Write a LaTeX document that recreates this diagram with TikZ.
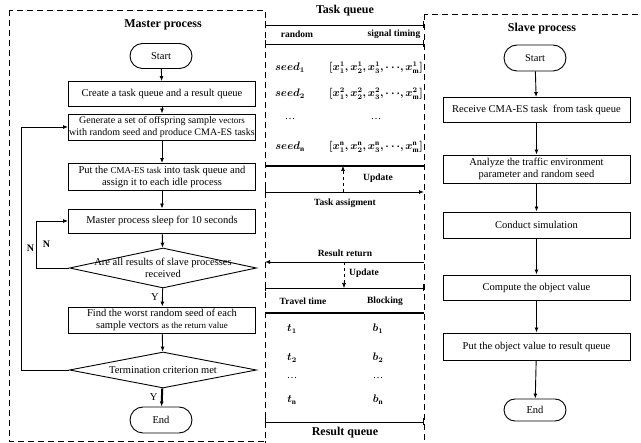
\documentclass[tikz,border=0pt]{standalone}
\usepackage{amsmath,bm}
\usepackage{fontspec}
\setmainfont{Liberation Serif}
\usetikzlibrary{shapes.geometric,shapes.misc,arrows.meta}
\newcommand{\smaller}[1]{{\fontsize{9}{11}\selectfont #1}}

\begin{document}
\begin{tikzpicture}[x=1pt, y=-1pt,
	font=\fontsize{10.5}{12.5}\selectfont,
	>={Latex[length=5pt,width=4pt]},
	proc/.style={draw, line width=0.9pt, minimum width=187pt, minimum height=#1, inner sep=1pt, align=center},
	proc/.default=25pt,
	term/.style={draw, rounded rectangle, line width=0.9pt, minimum width=64pt, minimum height=#1, inner sep=1pt},
	term/.default=25pt,
	test/.style={draw, diamond, line width=0.9pt, minimum width=187pt, minimum height=#1, inner sep=0pt},
	frame/.style={line width=0.9pt, dash pattern=on 6pt off 4pt},
	title/.style={font=\fontsize{12}{14}\selectfont\bfseries},
	head/.style={font=\fontsize{9.5}{11}\selectfont\bfseries},
	tab/.style={line width=0.9pt, {Bar[width=7pt]}-{Bar[width=7pt]}},
	flow/.style={->, line width=0.9pt}]
	\useasboundingbox (0,0) rectangle (641,443);
	\clip (0,0) rectangle (641,443);
	% frames
	\draw [frame] (9,10) rectangle (265,441); %master
	\draw [frame] (265,441) -- (265,450);
	\draw [frame] (424,14) rectangle (660,460); %slave
	% master process
	\node [title] (mtitle) at (163,25) {Master process};
	\node [term] (mstart) at (161,56) {Start};
	\node [proc] (create) at (162,94) {Create a task queue and a result queue};
	\node [proc=26pt, inner xsep=0pt, font=\fontsize{10}{12.5}\selectfont] (gen) at (162,127) {Generate a set of offspring sample \smaller{vectors}\\with random seed and produce CMA-ES tasks};
	\node [proc=27pt] (put) at (162,177) {Put the \smaller{CMA-ES task} into task queue and\\assign it to each idle process};
	\node [proc=24pt] (sleep) at (162,221) {Master process sleep for 10 seconds};
	\node [test=40pt, label={[align=center, font=\fontsize{10.5}{12}\selectfont]center:Are all results of slave processes\\received}] (dia1) at (163,268) {};
	\node [proc=26pt] (find) at (162,320) {Find the worst random seed of each\\sample vectors \smaller{as the return value}};
	\node [test=36pt, label=center:Termination criterion met] (dia2) at (163,370) {};
	\node [term=26pt] (mend) at (161,420) {End};
	\draw [flow] (mstart) -- (create);
	\draw [flow] (create) -- (gen);
	\draw [flow] (gen) -- (put);
	\draw [flow] (put) -- (sleep);
	\draw [flow] (sleep) -- (dia1);
	\draw [flow] (dia1) -- node [left] {Y} (find);
	\draw [flow] (find) -- (dia2);
	\draw [->, line width=2pt] (dia2) -- node [left] {Y} (mend);
	\draw [flow] (dia1.west) -- ++(-33,0) |- node [pos=0.25, right=3pt, font=\bfseries] {N} (sleep.west);
	\draw [flow] (dia2.west) -- ++(-48,0) |- node [pos=0.25, right=2pt, font=\bfseries] {N} (gen.west);
	% task queue
	\node [title] (tqtitle) at (345,11) {Task queue};
	\draw [tab] (265,25) -- (424,25);
	\node [head] (hrand) at (297,34) {random};
	\node [head] (hsig) at (394,34) {signal timing};
	\draw [tab] (265,44) -- (424,44);
	\node (seed1) at (290,68) {$\bm{seed_1}$};
	\node (vec1) at (376,68) {$\bm{[x_1^1,x_2^1,x_3^1,\cdots,x_{\mathrm{m}}^1]}$};
	\node (seed2) at (290,94) {$\bm{seed_2}$};
	\node (vec2) at (376,94) {$\bm{[x_1^2,x_2^2,x_3^2,\cdots,x_{\mathrm{m}}^2]}$};
	\node (sdots) at (290,119) {\dots};
	\node (vdots) at (376,119) {\dots};
	\node (seedn) at (290,147) {$\bm{seed_{\mathrm{n}}}$};
	\node (vecn) at (376,147) {$\bm{[x_1^{\mathrm{n}},x_2^{\mathrm{n}},x_3^{\mathrm{n}},\cdots,x_{\mathrm{m}}^{\mathrm{n}}]}$};
	\draw [line width=1.2pt] (265,166) -- (424,166);
	\coordinate (upa) at (343,192);
	\coordinate (upb) at (343,166);
	\draw [->, dashed, line width=0.6pt] (upa) -- (upb);
	\node [head] (upd1) at (378,178) {Update};
	\coordinate (tasks) at (265,192);
	\coordinate (taske) at (424,192);
	\draw [line width=0.9pt, {Bar[width=7pt]}->] (tasks) -- (taske);
	\node [head] (tassign) at (345,203) {Task assigment};
	% result queue
	\node [head] (rreturn) at (345,253) {Result return};
	\coordinate (rets) at (424,262);
	\coordinate (rete) at (265,262);
	\draw [flow] (rets) -- (rete);
	\coordinate (dna) at (344,262);
	\coordinate (dnb) at (344,288);
	\draw [->, dashed, line width=0.6pt] (dna) -- (dnb);
	\node [head] (upd2) at (364,273) {Update};
	\draw [tab] (265,288) -- (424,288);
	\node [head] (htravel) at (303,301) {Travel time};
	\node [head] (hblock) at (385,301) {Blocking};
	\draw [line width=1.5pt] (265,313) -- (424,313);
	\node (t1) at (292,329) {$\bm{t_1}$};
	\node (b1) at (378,329) {$\bm{b_1}$};
	\node (t2) at (292,358) {$\bm{t_2}$};
	\node (b2) at (378,358) {$\bm{b_2}$};
	\node (tdots) at (292,378) {\dots};
	\node (bdots) at (378,378) {\dots};
	\node (tn) at (292,400) {$\bm{t_{\mathrm{n}}}$};
	\node (bn) at (378,400) {$\bm{b_{\mathrm{n}}}$};
	\draw [tab] (265,422) -- (424,422);
	\node [title] (rqtitle) at (345,433) {Result queue};
	% slave process
	\node [title] (stitle) at (542,29) {Slave process};
	\node [term=26pt] (sstart) at (535,58) {Start};
	\node [proc] (recv) at (536.5,110) {Receive CMA-ES task \ from task queue};
	\node [proc=28pt] (anlz) at (536.5,169) {Analyze the traffic environment\\parameter and random seed};
	\node [proc=26pt] (sim) at (536.5,225) {Conduct simulation};
	\node [proc] (comp) at (536.5,287.5) {Compute the object value};
	\node [proc=27pt] (putr) at (536.5,346.5) {Put the object value to result queue};
	\node [term=22pt] (send) at (535,410) {End};
	\draw [flow] (sstart) -- (recv);
	\draw [flow] (recv) -- (anlz);
	\draw [flow] (anlz) -- (sim);
	\draw [flow] (sim) -- (comp);
	\draw [flow] (comp) -- (putr);
	\draw [flow] (putr) -- (send);
\end{tikzpicture}
\end{document}
